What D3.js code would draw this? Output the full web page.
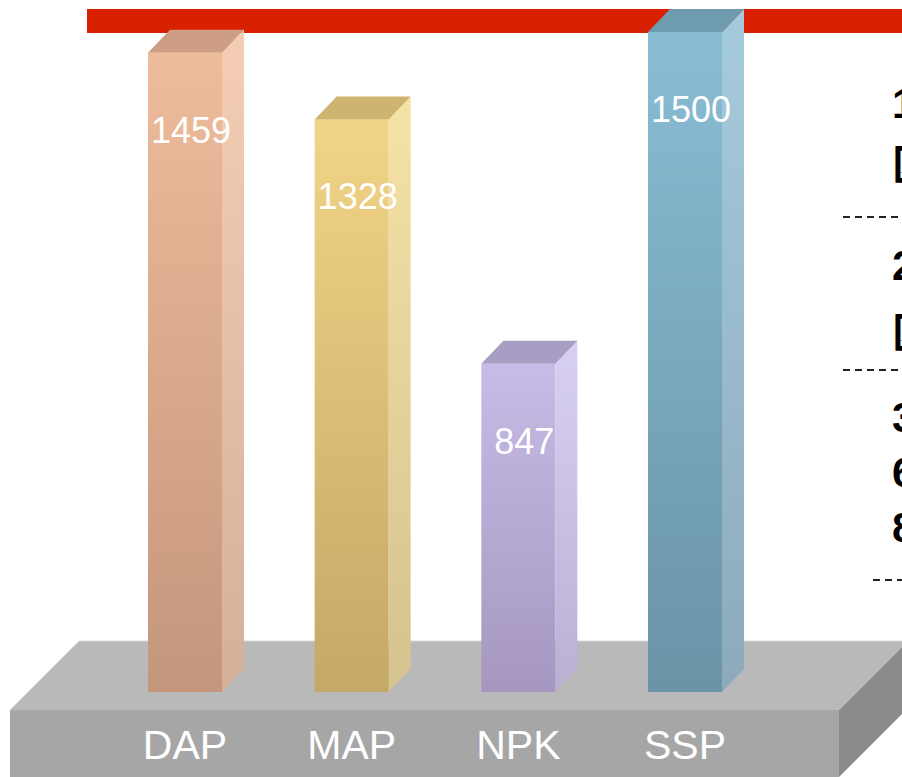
<!DOCTYPE html>
<html lang="zh">
<head>
<meta charset="UTF-8">
<title>DAP MAP NPK SSP</title>
<script src="https://d3js.org/d3.v7.min.js"></script>
<style>
    body { margin: 0; background: #fff; overflow: hidden; }
    svg { display: block; font-family: Arial, "Liberation Sans", sans-serif; }
</style>
</head>
<body>
<svg id="svg"></svg>
<script>
    // data
    const categories = ["DAP", "MAP", "NPK", "SSP"];
    const values = [1459, 1328, 847, 1500];
    // text fragments of the notes cut off on the right edge
    const notes = ["1", "区", "2", "区", "3", "6", "8"];

    // colours: front top/bottom, side top/bottom, top face
    const palette = [
        ["#EEBC9B", "#C4967C", "#F4CDB4", "#D4AF9A", "#CD9E83"],
        ["#F1D487", "#C4A865", "#F6E2A5", "#D4C290", "#CFB470"],
        ["#C7BCE7", "#A597BF", "#D8D0F2", "#B9B0D2", "#A89DC2"],
        ["#89BDD4", "#6A93A6", "#A4CBDD", "#8DAABB", "#6E9BAE"]
    ];

    const width = 902, height = 777;
    const svg = d3.select('#svg')
        .attr('width', width)
        .attr('height', height);

    const xScale = d3.scalePoint()
        .domain(categories)
        .range([185, 685]);
    const yScale = d3.scaleLinear()
        .domain([0, 1500])
        .range([794, 32]);

    const barW = 74, dx = 22, dy = 23, baseY = 692;

    // red band at the top
    svg.append('rect')
        .attr('x', 87).attr('y', 9)
        .attr('width', width - 87).attr('height', 24)
        .attr('fill', '#D92000');

    // platform
    const pl = 10, pr = 839, pt = 710, pb = 777, pd = 69;
    svg.append('polygon')
        .attr('points', [[pl + pd, pt - pd], [pr + pd, pt - pd], [pr, pt], [pl, pt]].join(' '))
        .attr('fill', '#B9B9B9');
    svg.append('line')
        .attr('x1', pl + pd).attr('x2', width)
        .attr('y1', pt - pd).attr('y2', pt - pd)
        .attr('stroke', '#D8D8D8').attr('stroke-width', 1);
    svg.append('rect')
        .attr('x', pl).attr('y', pt)
        .attr('width', pr - pl).attr('height', pb - pt)
        .attr('fill', '#A6A6A6');
    svg.append('polygon')
        .attr('points', [[pr, pt], [pr + pd, pt - pd], [pr + pd, pb - pd], [pr, pb]].join(' '))
        .attr('fill', '#8B8B8B');

    // gradients
    const defs = svg.append('defs');
    function grad(id, c1, c2) {
        const g = defs.append('linearGradient').attr('id', id)
            .attr('x1', 0).attr('y1', 0).attr('x2', 0).attr('y2', 1);
        g.append('stop').attr('offset', '0%').attr('stop-color', c1);
        g.append('stop').attr('offset', '100%').attr('stop-color', c2);
    }
    palette.forEach((p, i) => {
        grad('front' + i, p[0], p[1]);
        grad('side' + i, p[2], p[3]);
    });

    const data = categories.map((c, i) => ({ cat: c, value: values[i], i: i }));

    const bars = svg.selectAll('g.bar')
        .data(data)
        .enter()
        .append('g')
        .attr('class', 'bar');

    bars.append('rect')
        .attr('x', d => xScale(d.cat) - barW / 2)
        .attr('y', d => yScale(d.value))
        .attr('width', barW)
        .attr('height', d => baseY - yScale(d.value))
        .attr('fill', d => 'url(#front' + d.i + ')');

    bars.append('polygon')
        .attr('points', d => {
            const r = xScale(d.cat) + barW / 2, t = yScale(d.value);
            return [[r, t], [r + dx, t - dy], [r + dx, baseY - dy], [r, baseY]].join(' ');
        })
        .attr('fill', d => 'url(#side' + d.i + ')');

    bars.append('polygon')
        .attr('points', d => {
            const l = xScale(d.cat) - barW / 2, r = l + barW, t = yScale(d.value);
            return [[l, t], [l + dx, t - dy], [r + dx, t - dy], [r, t]].join(' ');
        })
        .attr('fill', d => palette[d.i][4]);

    // value labels
    bars.append('text')
        .attr('x', d => xScale(d.cat) + 6)
        .attr('y', d => yScale(d.value) + 90)
        .attr('text-anchor', 'middle')
        .attr('fill', '#fff')
        .style('font-size', '36px')
        .text(d => d.value);

    // category labels on the platform front
    svg.selectAll('text.cat')
        .data(categories)
        .enter()
        .append('text')
        .attr('class', 'cat')
        .attr('x', d => xScale(d))
        .attr('y', 759)
        .attr('text-anchor', 'middle')
        .attr('fill', '#fff')
        .style('font-size', '41px')
        .text(d => d);

    // notes cut off on the right
    const noteY = [118, 180, 280, 348, 432, 487, 542];
    svg.selectAll('text.note')
        .data(notes)
        .enter()
        .append('text')
        .attr('class', 'note')
        .attr('x', 892)
        .attr('y', (d, i) => noteY[i])
        .attr('fill', '#000')
        .style('font-family', 'Arial, "Liberation Sans", "Noto Sans CJK SC", sans-serif')
        .style('font-weight', 'bold')
        .style('font-size', '42px')
        .text(d => d);

    const dashes = [[843, 217], [843, 370], [873, 580]];
    svg.selectAll('line.dash')
        .data(dashes)
        .enter()
        .append('line')
        .attr('class', 'dash')
        .attr('x1', d => d[0]).attr('x2', width)
        .attr('y1', d => d[1]).attr('y2', d => d[1])
        .attr('stroke', '#222')
        .attr('stroke-width', 2)
        .attr('stroke-dasharray', '7,5');
</script>
</body>
</html>
